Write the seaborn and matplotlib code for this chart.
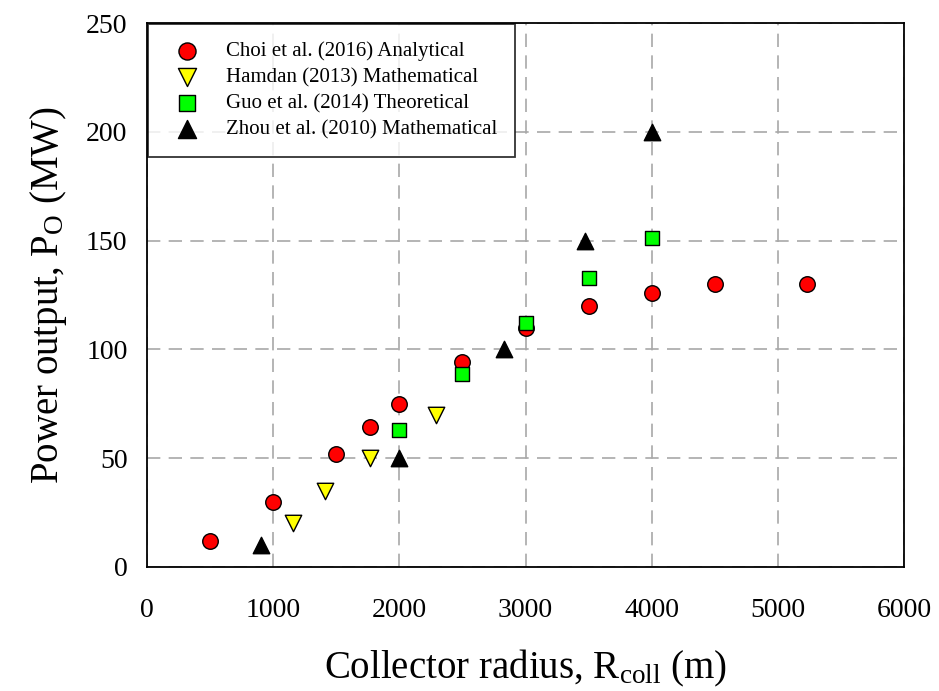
import pandas as pd
import matplotlib.pyplot as plt
import seaborn as sns

# Données
choi_x = [500, 1000, 1500, 1770, 2000, 2500, 3000, 3500, 4000, 4500, 5230]
choi_y = [12, 30, 52, 64.5, 75, 94, 110, 120, 126, 130, 130]
hamdan_x = [1160, 1410, 1770, 2290]
hamdan_y = [20, 35, 50, 70]
guo_x = [2000, 2500, 3000, 3500, 4000]
guo_y = [63, 88.5, 112, 133, 151]
zhou_x = [900, 2000, 2830, 3470, 4000]
zhou_y = [10, 50, 100, 150, 200]

series = [
    ("Choi et al. (2016) Analytical", choi_x, choi_y, "o", "#ff0000", 125),
    ("Hamdan (2013) Mathematical", hamdan_x, hamdan_y, "v", "#ffff00", 140),
    ("Guo et al. (2014) Theoretical", guo_x, guo_y, "s", "#00ff00", 110),
    ("Zhou et al. (2010) Mathematical", zhou_x, zhou_y, "^", "#000000", 140),
]

sns.set_style("white")
plt.rcParams['font.family'] = ['Liberation Serif', 'DejaVu Serif']
plt.rcParams['mathtext.fontset'] = 'custom'
plt.rcParams['mathtext.rm'] = 'Liberation Serif'
plt.rcParams['mathtext.it'] = 'Liberation Serif:italic'
plt.rcParams['text.color'] = 'black'
plt.rcParams['axes.labelcolor'] = 'black'

fig = plt.figure(figsize=(9.39, 6.91), dpi=100)
ax = fig.add_axes([0.1566, 0.1795, 0.8061, 0.7872])

for label, xs, ys, marker, color, size in series:
    df = pd.DataFrame({"x": xs, "y": ys})
    sns.scatterplot(data=df, x="x", y="y", marker=marker, color=color,
                    edgecolor="black", linewidth=1.0, s=size, label=label,
                    ax=ax, zorder=3)

ax.set_xlim(0, 6000)
ax.set_ylim(0, 250)
ax.set_xticks(range(0, 6001, 1000))
ax.set_yticks(range(0, 251, 50))
ax.grid(True, color="#a8a8a8", linestyle=(0, (8, 5)), linewidth=1.2)
ax.set_axisbelow(True)

for spine in ax.spines.values():
    spine.set_color("black")
    spine.set_linewidth(1.3)

ax.tick_params(axis="both", direction="out", length=6, width=1.2,
               labelsize=20, colors="black", pad=8)
ax.tick_params(axis="x", pad=16)

ax.set_xlabel(r"Collector radius, R$_{\mathrm{coll}}$ (m)", fontsize=28, labelpad=18)
ax.set_ylabel(r"Power output, P$_{\mathrm{O}}$ (MW)", fontsize=28, labelpad=12)

leg = ax.legend(loc="upper left", fontsize=15, frameon=True, fancybox=False,
                edgecolor="black", borderpad=0.85, labelspacing=0.3,
                handletextpad=0.9, borderaxespad=0.05, markerscale=1.1)
leg.get_frame().set_linewidth(1.3)

fig.savefig("out.png", dpi=100)
plt.close(fig)
